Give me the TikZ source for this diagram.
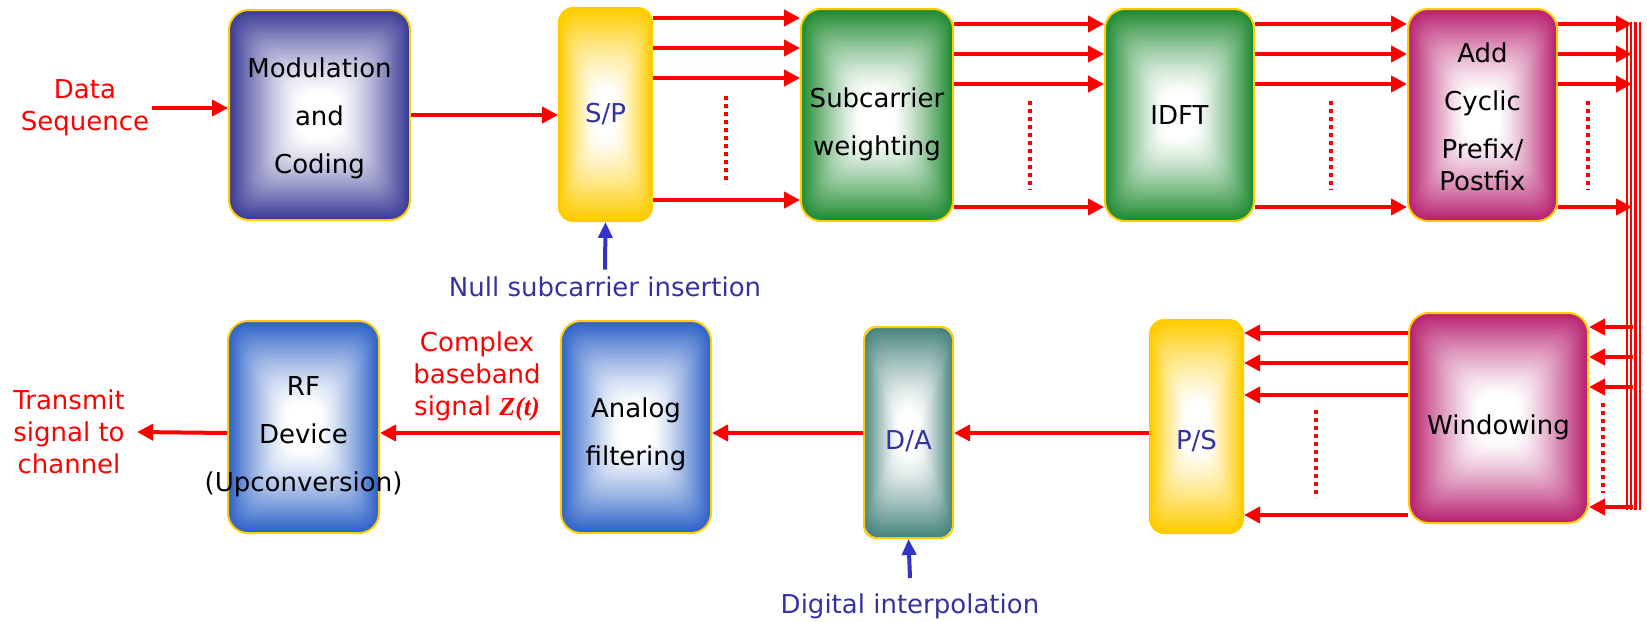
\documentclass[tikz,border=0pt]{standalone}
\usepackage{fontspec}
\setmainfont{DejaVu Sans}
\newfontfamily\serifz{Liberation Serif}
\usetikzlibrary{arrows.meta,calc}

\definecolor{modcol}{RGB}{58,58,150}
\definecolor{grncol}{RGB}{30,138,48}
\definecolor{magcol}{RGB}{184,32,112}
\definecolor{rfcol}{RGB}{44,98,200}
\definecolor{tealcol}{RGB}{72,132,126}
\definecolor{goldcol}{RGB}{255,204,0}
\definecolor{labblue}{RGB}{51,51,160}
\definecolor{arrblue}{RGB}{51,51,204}

\tikzset{
  blk/.style={draw=goldcol, line width=1pt, rounded corners=10pt, inner sep=0pt,
    path picture={
      \foreach \k in {0,...,39} {
        \pgfmathsetmacro\pc{100*pow(max(0,1-\k/31),1.25)}
        \fill[#1!\pc!white, rounded corners=8pt]
          ($(path picture bounding box.center)!{1-\k/40}!(path picture bounding box.south west)$)
          rectangle ($(path picture bounding box.center)!{1-\k/40}!(path picture bounding box.north east)$);
      }
    }},
  btxt/.style={align=center, inner sep=0pt, font=\fontsize{13}{24}\selectfont},
  sig/.style={red, line width=2pt, -{Triangle[length=8pt,width=8pt]}},
  nul/.style={arrblue, line width=2pt, -{Triangle[length=8pt,width=7pt]}},
  dots/.style={red, line width=2pt, dash pattern=on 2pt off 2pt},
  redlab/.style={text=red, align=center, inner sep=1pt, font=\fontsize{13}{16}\selectfont},
  bluelab/.style={text=labblue, inner sep=3.5pt, font=\fontsize{13}{16}\selectfont}
}

\begin{document}
\begin{tikzpicture}[x=0.5pt, y=-0.5pt]
    \useasboundingbox (0,0) rectangle (1647,621);

    % Top row
    \node[redlab] (data) at (85,108) {Data\\Sequence};
    \node[blk=modcol, minimum width=90.5pt, minimum height=105pt] (mod) at (319.5,115) {};
    \node[blk=goldcol, rounded corners=7pt, minimum width=46.5pt, minimum height=106.5pt] (sp) at (605.5,114.5) {};
    \node[blk=grncol, minimum width=76pt, minimum height=106pt] (subc) at (877,115) {};
    \node[blk=grncol, minimum width=74.5pt, minimum height=106pt] (idft) at (1179.5,115) {};
    \node[blk=magcol, minimum width=74.5pt, minimum height=106pt] (cp) at (1482.5,115) {};
    \node[bluelab] (nulltxt) at (605,287) {Null subcarrier insertion};

    \node[btxt] (modtxt) at ([yshift=-1.5pt]mod.center) {Modulation\\and\\Coding};
    \node[btxt, text=labblue] (sptxt) at (sp.center) {S/P};
    \node[btxt] (subctxt) at ([yshift=-4.5pt]subc.center) {Subcarrier\\weighting};
    \node[btxt] (idfttxt) at (idft.center) {IDFT};
    \node[btxt] (cptxt) at ([yshift=-1pt]cp.center) {Add\\Cyclic\\Prefix/\\[-8pt]Postfix};

    % Bottom row
    \node[blk=magcol, minimum width=89.5pt, minimum height=105pt] (win) at (1498.5,418) {};
    \node[blk=goldcol, rounded corners=7pt, minimum width=46.5pt, minimum height=106.5pt] (ps) at (1196.5,426.5) {};
    \node[blk=tealcol, rounded corners=6pt, minimum width=44.5pt, minimum height=105.5pt] (da) at (908.5,432.5) {};
    \node[blk=rfcol, minimum width=75pt, minimum height=106pt] (af) at (636,427) {};
    \node[blk=rfcol, minimum width=75.5pt, minimum height=106pt] (rf) at (303.5,427) {};
    \node[redlab] (cbs) at (477,376) {Complex\\baseband\\signal {\serifz\bfseries\itshape Z(t)}};
    \node[redlab] (tx) at (69,432) {Transmit\\signal to\\channel};
    \node[bluelab] (dint) at (910,606) {Digital interpolation};

    \node[btxt] (wintxt) at ([yshift=-4.5pt]win.center) {Windowing};
    \node[btxt, text=labblue] (pstxt) at ([yshift=-7.5pt]ps.center) {P/S};
    \node[btxt, text=labblue] (datxt) at ([yshift=-4.5pt]da.center) {D/A};
    \node[btxt] (aftxt) at ([yshift=-3.5pt]af.center) {Analog\\filtering};
    \node[btxt] (rftxt) at ([yshift=-5pt]rf.center) {RF\\Device\\(Upconversion)};

    % Top connectors
    \draw[sig] (data.east) -- (mod.west |- data.east);
    \draw[sig] (mod.east) -- (sp.west |- mod.east);
    \draw[nul] (nulltxt.north) -- (sp.south);
    \foreach \y in {18,48,78,200}
        \draw[sig] (sp.east |- 0,\y) -- (subc.west |- 0,\y);
    \foreach \y in {24,54,84,207} {
        \draw[sig] (subc.east |- 0,\y) -- (idft.west |- 0,\y);
        \draw[sig] (idft.east |- 0,\y) -- (cp.west |- 0,\y);
    }

    % Bus down the right side
    \foreach \y [count=\i] in {24,54,84,207} {
        \coordinate (bin\i) at (1632,\y);
        \draw[sig] (cp.east |- bin\i) -- (bin\i);
    }
    \foreach \x/\w in {1627/0.8pt, 1631/0.8pt, 1635/1.5pt, 1640/0.8pt}
        \draw[red, line width=\w] (\x,22) -- (\x,510);
    \foreach \y [count=\i] in {327,357,387,507} {
        \coordinate (bout\i) at (1633,\y);
        \draw[sig] (bout\i) -- (win.east |- bout\i);
    }

    % Bottom connectors
    \foreach \y in {333,363,395,515}
        \draw[sig] (win.west |- 0,\y) -- (ps.east |- 0,\y);
    \draw[sig] (ps.west |- 0,433) -- (da.east |- 0,433);
    \draw[sig] (da.west |- 0,433) -- (af.east |- 0,433);
    \draw[sig] (af.west |- 0,433) -- (rf.east |- 0,433);
    \draw[sig] (rf.west |- 0,433) -- ([xshift=5pt]tx.east);
    \draw[nul] ([yshift=4pt]dint.north) -- (da.south);

    % Dotted gaps between the lines
    \foreach \x/\ya/\yb in {726/96/184, 1030/101/190, 1331/101/190, 1588/101/190, 1316/410/498, 1603/403/493}
        \draw[dots] (\x,\ya) -- (\x,\yb);
\end{tikzpicture}
\end{document}
